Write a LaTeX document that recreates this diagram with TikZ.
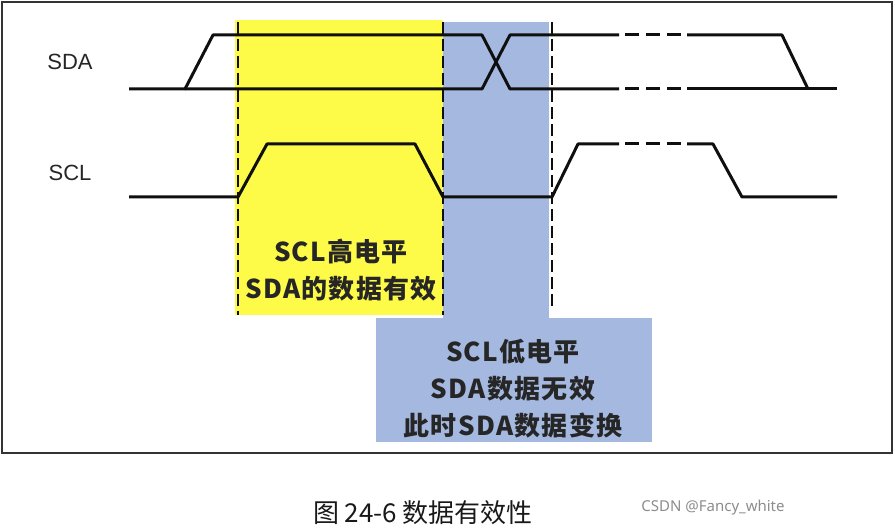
\documentclass[tikz,border=0pt]{standalone}
\usepackage{fontspec}
\setmainfont{Liberation Sans}
\newfontfamily\cjk{Noto Sans CJK SC}
\newfontfamily\cjkwide[LetterSpace=5]{Noto Sans CJK SC}
\newfontfamily\notosans{Noto Sans}
\definecolor{hiyel}{RGB}{253,250,72}
\definecolor{lowblue}{RGB}{164,184,224}
\definecolor{wave}{RGB}{15,15,15}
\begin{document}
\begin{tikzpicture}[x=1pt,y=-1pt,
  sig/.style={draw=wave,line width=3pt,line join=round},
  sigdash/.style={draw=wave,line width=3pt,dash pattern=on 14pt off 7pt},
  guide/.style={draw=wave,line width=1.5pt,dash pattern=on 12pt off 5pt},
  lab/.style={font=\fontsize{22}{22}\selectfont,text=black!85,inner sep=0pt},
  note/.style={font=\cjkwide\bfseries\fontsize{26}{37}\selectfont,text=black!85,align=center,inner sep=0pt}]
\useasboundingbox (0,0) rectangle (895,529);
% frame
\draw[line width=2.2pt,draw=black!80] (2,2) rectangle (892,453);
% shaded regions
\fill[hiyel] (235,20) rectangle (443,315);
\fill[lowblue] (443,22) rectangle (549,318);
\fill[lowblue] (376,318) rectangle (652,442);
% dashed guides
\draw[guide] (238,22) -- (238,315);
\draw[guide] (443,22) -- (443,315);
\draw[guide] (552,22) -- (552,308);
% SDA
\draw[sig] (129,89) -- (185,89) -- (213,35) -- (482,35) -- (510,89) -- (619,89);
\draw[sig] (185,89) -- (482,89) -- (510,35) -- (619,35);
\draw[sigdash] (625,35) -- (681,35);
\draw[sigdash] (625,89) -- (681,89);
\draw[sig] (687,35) -- (782,35) -- (808,89);
\draw[sig] (687,89) -- (837,89);
% SCL
\draw[sig] (129,197) -- (238,197) -- (267,144) -- (415,144) -- (443,197) -- (552,197) -- (578,144) -- (619,144);
\draw[sigdash] (625,144) -- (681,144);
\draw[sig] (687,144) -- (713,144) -- (742,197) -- (837,197);
% labels
\node[lab] (sda) at (70,62) {SDA};
\node[lab] (scl) at (70,173) {SCL};
\node[note] (valid) at (341,270) {SCL高电平\\SDA的数据有效};
\node[note] (invalid) at (513,389) {SCL低电平\\SDA数据无效\\此时SDA数据变换};
\node[font=\cjk\fontsize{26}{26}\selectfont,text=black!90,inner sep=0pt] (cap) at (423,513) {图 24-6 数据有效性};
\node[font=\notosans\fontsize{15}{15}\selectfont,text=black!45,inner sep=0pt] (mark) at (713,508) {CSDN @Fancy\_white};
\end{tikzpicture}
\end{document}
